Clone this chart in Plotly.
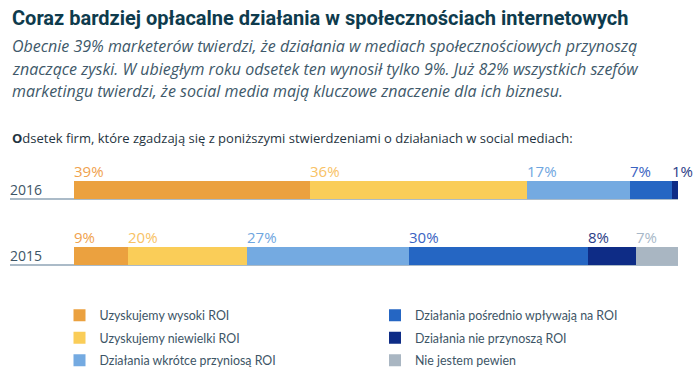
import plotly.graph_objects as go

years = ["2016", "2015"]
series_names = [
    "Uzyskujemy wysoki ROI",
    "Uzyskujemy niewielki ROI",
    "Działania wkrótce przyniosą ROI",
    "Działania pośrednio wpływają na ROI",
    "Działania nie przynoszą ROI",
    "Nie jestem pewien",
]
values_2016 = [39, 36, 17, 7, 1, 0]
values_2015 = [9, 20, 27, 30, 8, 7]
labels_2016 = ["39%", "36%", "17%", "7%", "1%", ""]
labels_2015 = ["9%", "20%", "27%", "30%", "8%", "7%"]

bar_colors = ["#EBA13F", "#FACD58", "#74AAE1", "#2566C3", "#0E2C86", "#A9B6C2"]
label_colors = ["#F0A24E", "#F8C264", "#6FA6E0", "#3A63C2", "#2B3C86", "#A8B8C8"]
legend_ids = ["legend", "legend", "legend", "legend2", "legend2", "legend2"]
year_index = {"2015": 0, "2016": 1}

fig = go.Figure()
for i, name in enumerate(series_names):
    fig.add_trace(go.Bar(
        name=name,
        y=years,
        x=[values_2016[i], values_2015[i]],
        orientation="h",
        width=0.276,
        marker=dict(color=bar_colors[i], line=dict(width=0)),
        legend=legend_ids[i],
        legendgroup="g%d" % i,
        legendrank=i + 1,
        hoverinfo="skip",
    ))

annotations = []
# percentage labels above each segment
for year, vals, labs in [("2016", values_2016, labels_2016), ("2015", values_2015, labels_2015)]:
    total = sum(vals)
    cum = 0
    for i, v in enumerate(vals):
        if labs[i]:
            annotations.append(dict(
                x=cum / total * 100, y=year_index[year], xref="x", yref="y",
                text=labs[i], showarrow=False, xanchor="left", yanchor="bottom",
                yshift=7, xshift=-2,
                font=dict(family="Open Sans", size=15, color=label_colors[i]),
            ))
        cum += v

W = 604.0
H = 132.5
def px(xp):
    return (xp - 74) / W
def py(yp):
    return (289.3 - yp) / H

title_color = "#0E3B4D"
sub_color = "#40596A"
annotations.append(dict(
    x=px(10), y=py(17), xref="paper", yref="paper", xanchor="left", yanchor="middle",
    text="<b>Coraz bardziej opłacalne działania w społecznościach internetowych</b>",
    showarrow=False, font=dict(family="Roboto", size=20, color=title_color),
))
sub_lines = [
    "<i>Obecnie 39% marketerów twierdzi, że działania w mediach społecznościowych przynoszą</i>",
    "<i>znaczące zyski. W ubiegłym roku odsetek ten wynosił tylko 9%. Już 82% wszystkich szefów</i>",
    "<i>marketingu twierdzi, że social media mają kluczowe znaczenie dla ich biznesu.</i>",
]
for k, line in enumerate(sub_lines):
    annotations.append(dict(
        x=px(10), y=py(45 + 23 * k), xref="paper", yref="paper", xanchor="left", yanchor="middle",
        text=line, showarrow=False, font=dict(family="Open Sans", size=16, color=sub_color),
    ))
annotations.append(dict(
    x=px(10), y=py(138), xref="paper", yref="paper", xanchor="left", yanchor="middle",
    text="<b>O</b>dsetek firm, które zgadzają się z poniższymi stwierdzeniami o działaniach w social mediach:",
    showarrow=False, font=dict(family="Open Sans", size=13, color="#1F3441"),
))

shapes = []
for yi in [0, 1]:
    shapes.append(dict(
        type="line", xref="paper", yref="y", x0=px(10), x1=1,
        y0=yi - 0.138, y1=yi - 0.138,
        line=dict(color="#8FA4B6", width=1.5), layer="below",
    ))

legend_font = dict(family="Lato", size=12.4, color="#3D5566")
legend_common = dict(
    orientation="v", yanchor="top", xanchor="left",
    traceorder="grouped", tracegroupgap=3.4,
    font=legend_font, bgcolor="rgba(0,0,0,0)",
)

fig.update_layout(
    width=700, height=386,
    margin=dict(l=74, r=22, t=157, b=97, autoexpand=False),
    barmode="stack", barnorm="percent",
    paper_bgcolor="white", plot_bgcolor="white",
    showlegend=True,
    legend=dict(x=px(59.5), y=py(301), **legend_common),
    legend2=dict(x=px(375), y=py(301), **legend_common),
    xaxis=dict(range=[0, 100], visible=False, fixedrange=True),
    yaxis=dict(
        categoryorder="array", categoryarray=["2015", "2016"], range=[-0.5, 1.5],
        showgrid=False, zeroline=False, showline=False, ticks="",
        tickfont=dict(family="Open Sans", size=14, color="#3D5566"),
        ticklabelstandoff=31, fixedrange=True,
    ),
    annotations=annotations,
    shapes=shapes,
)

fig.write_html("out.html", config={"displayModeBar": False},
               post_script="document.body.style.margin='0';")
